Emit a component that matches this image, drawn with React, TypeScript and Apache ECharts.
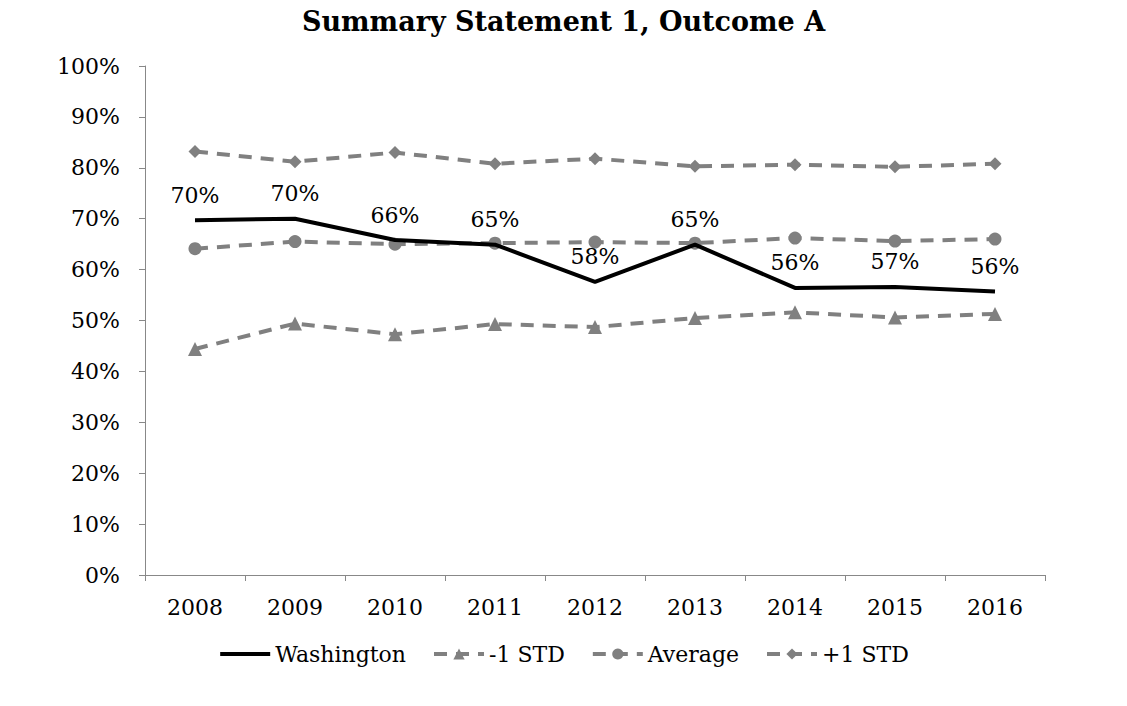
import React, { useEffect, useRef } from "react";
import * as echarts from "echarts";

const years = ["2008", "2009", "2010", "2011", "2012", "2013", "2014", "2015", "2016"];
const washington = [69.7, 70.0, 65.8, 64.9, 57.6, 64.9, 56.4, 56.6, 55.7];
const minusStd = [44.4, 49.4, 47.3, 49.3, 48.7, 50.5, 51.6, 50.6, 51.3];
const average = [64.1, 65.5, 65.0, 65.2, 65.4, 65.2, 66.2, 65.6, 66.0];
const plusStd = [83.2, 81.2, 83.0, 80.8, 81.8, 80.3, 80.6, 80.2, 80.8];
const yTicks = [0, 10, 20, 30, 40, 50, 60, 70, 80, 90, 100];

const FONT = "'DejaVu Serif', 'Liberation Serif', serif";
const GRAY = "#808080";

export default function App() {
  const ref = useRef<HTMLDivElement>(null);
  useEffect(() => {
    document.body.style.margin = "0";
    if (!ref.current) return;
    const chart = echarts.init(ref.current, undefined, { renderer: "svg" });
    const dashed = (name: string, data: number[], symbol: string, size: number) => ({
      name,
      type: "line",
      data,
      symbol,
      symbolSize: size,
      showAllSymbol: true,
      lineStyle: { color: GRAY, width: 4, type: [13, 9] },
      itemStyle: { color: GRAY },
      z: 2,
    });
    chart.setOption({
      animation: false,
      backgroundColor: "#ffffff",
      textStyle: { fontFamily: FONT },
      title: {
        text: "Summary Statement 1, Outcome A",
        left: "center",
        top: 3,
        textStyle: { fontFamily: FONT, fontWeight: "bold", fontSize: 27, color: "#000" },
      },
      grid: { left: 145, right: 82, top: 66, bottom: 131, containLabel: false },
      legend: {
        bottom: 36,
        left: "center",
        itemWidth: 50,
        itemHeight: 14,
        itemGap: 26,
        textStyle: { fontFamily: FONT, fontSize: 22, color: "#000" },
        data: [
          { name: "Washington", lineStyle: { width: 4 } },
          { name: "-1 STD", lineStyle: { width: 4 } },
          { name: "Average", lineStyle: { width: 4 } },
          { name: "+1 STD", lineStyle: { width: 4 } },
        ],
      },
      xAxis: {
        type: "category",
        data: years,
        boundaryGap: true,
        axisLine: { lineStyle: { color: "#888", width: 1 } },
        axisTick: { show: true, alignWithLabel: false, length: 6, lineStyle: { color: "#888" } },
        axisLabel: { fontFamily: FONT, fontSize: 22, color: "#000", margin: 21 },
      },
      yAxis: {
        type: "value",
        min: 0,
        max: 100,
        interval: 10,
        splitLine: { show: false },
        axisLine: { show: true, lineStyle: { color: "#888", width: 1 } },
        axisTick: { show: true, length: 6, lineStyle: { color: "#888" } },
        axisLabel: {
          fontFamily: FONT,
          fontSize: 22,
          color: "#000",
          margin: 25,
          formatter: (v: number) => (yTicks.includes(v) ? v + "%" : ""),
        },
      },
      series: [
        {
          name: "Washington",
          type: "line",
          data: washington,
          symbol: "circle",
          symbolSize: 2,
          showAllSymbol: true,
          lineStyle: { color: "#000", width: 4 },
          itemStyle: { color: "rgba(0,0,0,0)" },
          z: 3,
          label: {
            show: true,
            position: "top",
            distance: 13,
            fontFamily: FONT,
            fontSize: 22,
            color: "#000",
            formatter: (p: any) => Math.round(p.value) + "%",
          },
        },
        dashed("-1 STD", minusStd, "triangle", 14),
        dashed("Average", average, "circle", 13),
        dashed("+1 STD", plusStd, "diamond", 13),
      ],
    });
    return () => chart.dispose();
  }, []);
  return <div ref={ref} style={{ width: 1127, height: 706 }} />;
}
